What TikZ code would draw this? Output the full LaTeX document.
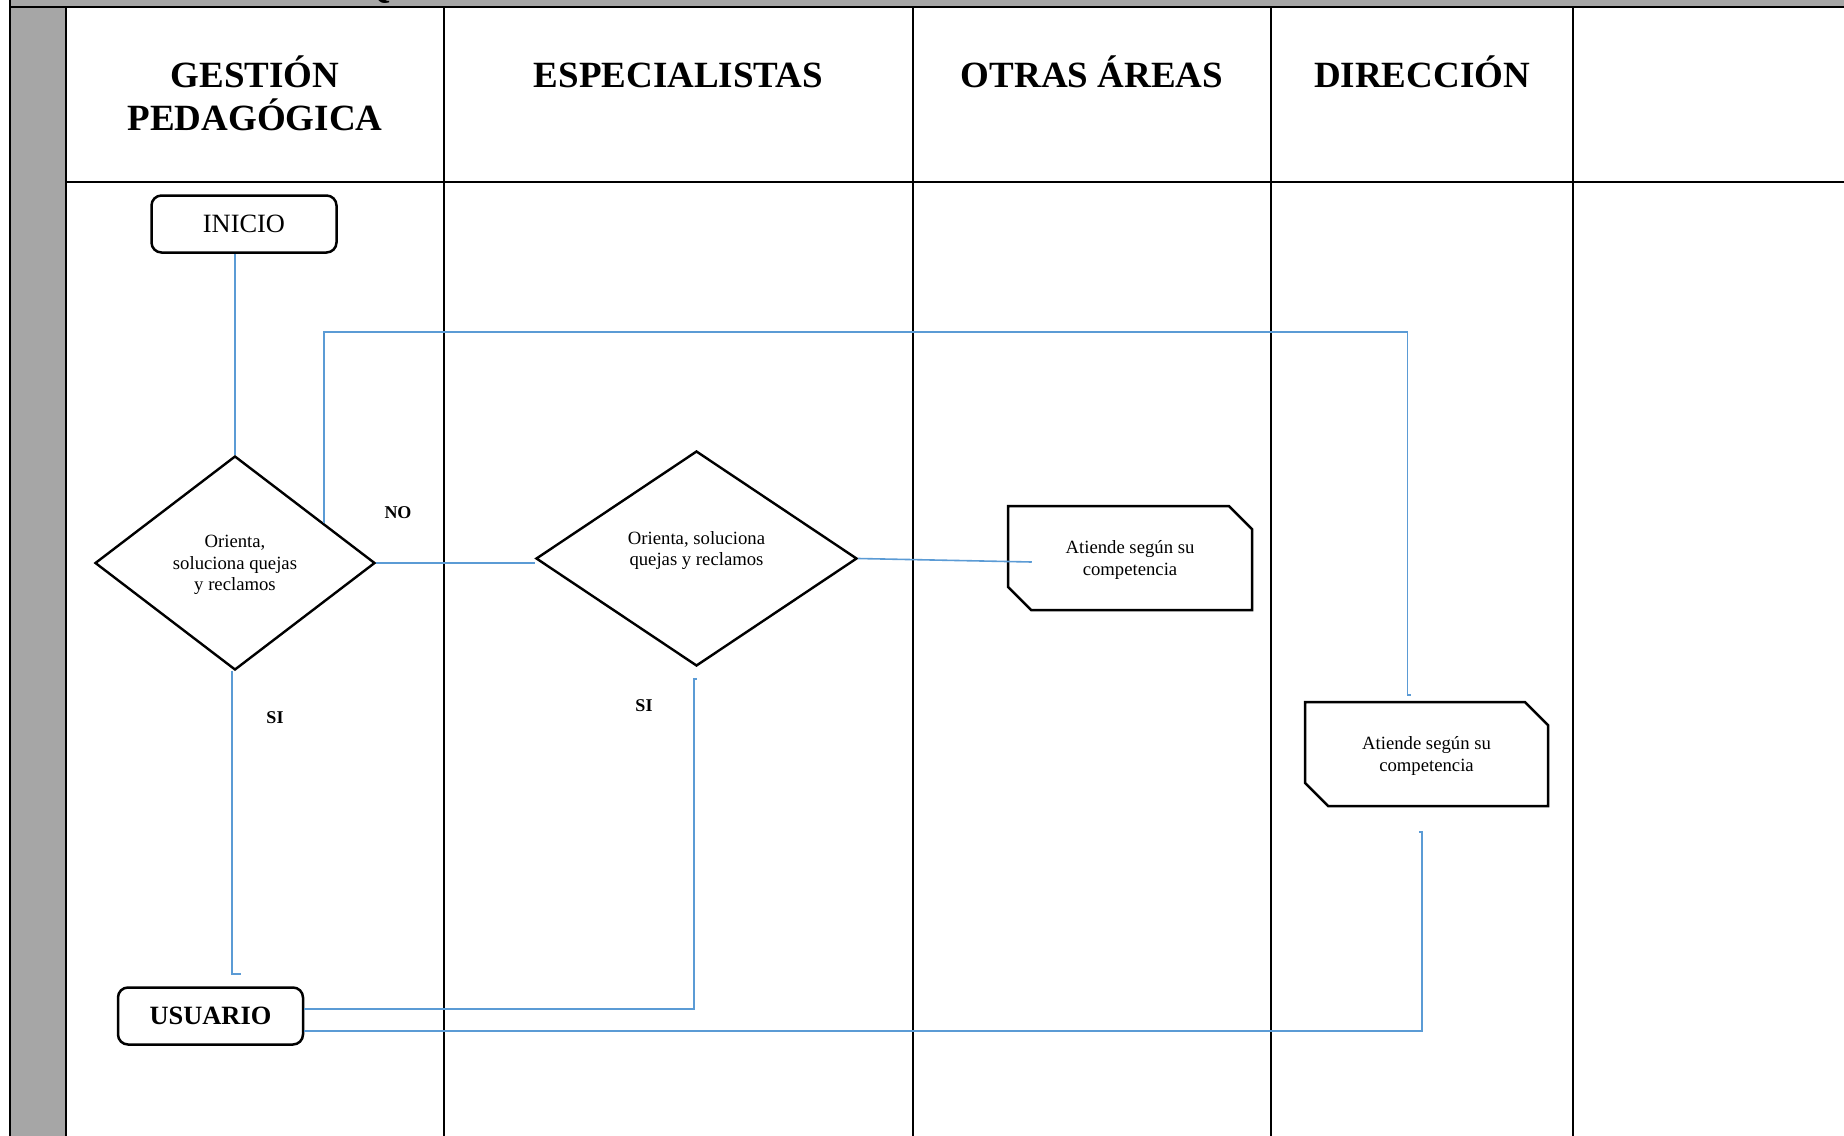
\documentclass[tikz,border=0pt]{standalone}
\usepackage{fontspec}
\setmainfont{Liberation Serif}
\usetikzlibrary{shapes.geometric,shapes.misc,calc}
\definecolor{flowblue}{RGB}{91,155,213}
\definecolor{bandgray}{RGB}{166,166,166}
\begin{document}
\begin{tikzpicture}[x=0.5pt,y=-0.5pt,
  grid/.style={line width=1pt,black},
  flow/.style={line width=0.8pt,flowblue},
  hdr/.style={font=\fontsize{18.5}{21.5}\selectfont\bfseries,align=center,anchor=base,inner sep=0pt},
  term/.style={draw,line width=1.25pt,rounded corners=5pt,minimum width=92.5pt,minimum height=28.5pt,inner sep=0pt,font=\fontsize{13.2}{15}\selectfont},
  decision/.style={draw,diamond,line width=1.2pt,inner sep=0pt,align=center,font=\fontsize{9.35}{10.75}\selectfont},
  task/.style={draw,chamfered rectangle,chamfered rectangle corners={north east,south west},chamfered rectangle xsep=8.5pt,line width=1.25pt,align=center,inner sep=0pt,font=\fontsize{9.35}{10.9}\selectfont},
  lbl/.style={font=\fontsize{9}{10}\selectfont\bfseries,inner sep=0pt}]
\useasboundingbox (0,0) rectangle (1844,1136);
\fill[white] (0,0) rectangle (1844,1136);
\fill[bandgray] (10,0) rectangle (1844,7);
\fill[bandgray] (10,7) rectangle (66,1136);
\begin{scope}
  \clip (10,0) rectangle (1844,7);
  \node[anchor=base west,inner sep=0pt,font=\fontsize{18.5}{21.5}\selectfont\bfseries] (qt) at (362,-3) {Q};
\end{scope}
% table grid
\draw[grid] (10,0) -- (10,1136);
\draw[grid] (10,7) -- (1844,7);
\draw[grid] (66,7) -- (66,1136);
\draw[grid] (66,181.5) -- (1844,181.5);
\foreach \x in {444,913,1271,1573} \draw[grid] (\x,7) -- (\x,1136);
% headers
\node[hdr] (h1) at (255,130) {GESTIÓN\\PEDAGÓGICA};
\node[hdr] (h2) at (678.5,87) {ESPECIALISTAS};
\node[hdr] (h3) at (1092,87) {OTRAS ÁREAS};
\node[hdr] (h4) at (1422,87) {DIRECCIÓN};
% shapes
\node[term] (ini) at (244,224) {INICIO};
\node[term,font=\fontsize{13.2}{15}\selectfont\bfseries] (usu) at (210.5,1016) {USUARIO};
\node[decision,minimum width=140pt,minimum height=107pt,text depth=0pt] (d1) at (235,563) {Orienta,\\soluciona quejas\\y reclamos};
\node[decision,minimum width=160.5pt,minimum height=107.5pt,text depth=10pt] (d2) at (696.5,558.5) {Orienta, soluciona\\quejas y reclamos};
\node[task,minimum width=122pt,minimum height=52pt,text depth=0pt] (b1) at (1130,558) {Atiende según su\\competencia};
\node[task,minimum width=121.5pt,minimum height=52pt,text depth=0pt] (b2) at (1426.5,754) {Atiende según su\\competencia};
% labels
\node[lbl] (no) at (398,513) {NO};
\node[lbl] (si1) at (275,718) {SI};
\node[lbl] (si2) at (644,706) {SI};
% connectors
\draw[flow] (d1.north |- ini.south) -- (d1.north);
\coordinate (noA) at ($(d1.north)!0.63!(d1.east)$);
\coordinate (noB) at ($(b2.north)+(-19,-6)$);
\draw[flow] (noA) |- (noB |- 0,332) -- (noB) -- ++(3,0);
\draw[flow] (d1.east) -- (d1.east -| d2.west);
\coordinate (b1in) at ($(b1.west)+(25,4)$);
\draw[flow] (d2.east) -- (b1in);
\coordinate (siA) at (232,974);
\draw[flow] (d1.south -| siA) -- (siA) -- ++(9,0);
\coordinate (siB) at ($(d2.south)+(-2.5,12)$);
\draw[flow] ([yshift=3.5pt]usu.east) -| (siB) -- ++(3,0);
\coordinate (dirB) at ($(b2.south)+(-4.5,25)$);
\draw[flow] ([yshift=-7.5pt]usu.east) -| (dirB) -- ++(-3,0);
\end{tikzpicture}
\end{document}
